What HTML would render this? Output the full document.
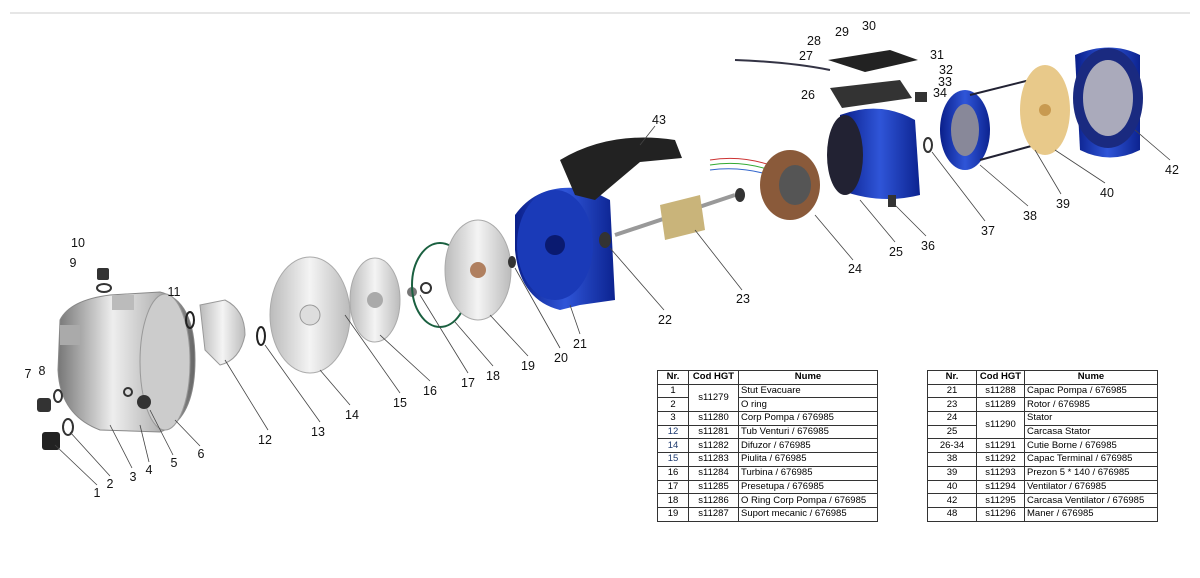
<!DOCTYPE html>
<html><head><style>
html,body{margin:0;padding:0;background:#fff;}
body{width:1200px;height:578px;position:relative;overflow:hidden;font-family:"Liberation Sans",sans-serif;}
svg{position:absolute;left:0;top:0;}
table{position:absolute;border-collapse:collapse;font-family:"Liberation Sans",sans-serif;font-size:9.5px;}
td,th{border:1px solid #333;height:12.7px;padding:0 2px;line-height:12px;}
th{font-weight:bold;text-align:center;}
td.c{text-align:center;}
.n{color:#1e3a6e;}
</style></head><body>
<svg width="1200" height="578" viewBox="0 0 1200 578">
<defs>
<linearGradient id="silver" x1="0" x2="1"><stop offset="0" stop-color="#777"/><stop offset=".4" stop-color="#eee"/><stop offset=".7" stop-color="#bbb"/><stop offset="1" stop-color="#666"/></linearGradient>
<linearGradient id="blue" x1="0" x2="1"><stop offset="0" stop-color="#0a1f8a"/><stop offset=".5" stop-color="#2f55d8"/><stop offset="1" stop-color="#0c2390"/></linearGradient>
<linearGradient id="lg" x1="0" x2="1"><stop offset="0" stop-color="#bbb"/><stop offset=".5" stop-color="#f4f4f4"/><stop offset="1" stop-color="#bbb"/></linearGradient>
</defs>
<line x1="10" y1="13" x2="1190" y2="13" stroke="#ccc"/>
<path d="M60 320 Q70 300 110 295 L160 292 Q195 300 195 360 Q195 420 160 432 L100 430 Q60 415 58 370 Z" fill="url(#silver)" stroke="#888"/>
<ellipse cx="165" cy="362" rx="25" ry="68" fill="#ccc" stroke="#999"/>
<rect x="112" y="295" width="22" height="15" fill="#bbb"/>
<rect x="60" y="325" width="20" height="20" fill="#aaa"/>
<circle cx="144" cy="402" r="7" fill="#333"/><circle cx="128" cy="392" r="4" fill="none" stroke="#333" stroke-width="2"/>
<rect x="37" y="398" width="14" height="14" rx="3" fill="#333"/>
<rect x="42" y="432" width="18" height="18" rx="3" fill="#222"/>
<ellipse cx="68" cy="427" rx="5" ry="8" fill="none" stroke="#333" stroke-width="2"/>
<ellipse cx="58" cy="396" rx="4" ry="6" fill="none" stroke="#333" stroke-width="2"/>
<rect x="97" y="268" width="12" height="12" rx="2" fill="#333"/>
<ellipse cx="104" cy="288" rx="7" ry="4" fill="none" stroke="#333" stroke-width="2"/>
<ellipse cx="190" cy="320" rx="4" ry="8" fill="none" stroke="#222" stroke-width="2"/>
<path d="M200 305 L225 300 Q245 310 245 335 Q240 360 220 365 L205 350 Z" fill="url(#lg)" stroke="#999"/>
<ellipse cx="261" cy="336" rx="4" ry="9" fill="none" stroke="#222" stroke-width="2"/>
<ellipse cx="310" cy="315" rx="40" ry="58" fill="url(#lg)" stroke="#aaa"/>
<circle cx="310" cy="315" r="10" fill="#ddd" stroke="#999"/>
<ellipse cx="375" cy="300" rx="25" ry="42" fill="url(#lg)" stroke="#aaa"/>
<circle cx="375" cy="300" r="8" fill="#aaa"/>
<circle cx="412" cy="292" r="5" fill="#777"/><circle cx="426" cy="288" r="5" fill="none" stroke="#333" stroke-width="2"/>
<ellipse cx="440" cy="285" rx="28" ry="42" fill="none" stroke="#1a6040" stroke-width="2"/>
<ellipse cx="478" cy="270" rx="33" ry="50" fill="url(#lg)" stroke="#aaa"/>
<circle cx="478" cy="270" r="8" fill="#b08060"/>
<ellipse cx="512" cy="262" rx="4" ry="6" fill="#333"/>
<path d="M515 215 Q540 180 590 190 L610 200 L615 300 L580 305 L560 310 Q520 300 515 250 Z" fill="url(#blue)"/>
<ellipse cx="555" cy="245" rx="38" ry="55" fill="#1a3ab8"/>
<circle cx="555" cy="245" r="10" fill="#0a1a70"/>
<path d="M560 160 Q610 130 675 140 L682 158 L640 162 L595 200 L575 195 Z" fill="#222"/>
<ellipse cx="605" cy="240" rx="6" ry="8" fill="#333"/>
<line x1="615" y1="235" x2="735" y2="195" stroke="#999" stroke-width="4"/>
<path d="M660 205 L700 195 L705 230 L665 240 Z" fill="#c9b47a"/>
<ellipse cx="740" cy="195" rx="5" ry="7" fill="#333"/>
<path d="M710 160 Q740 155 770 165" stroke="#c33" fill="none"/><path d="M710 165 Q740 160 770 170" stroke="#3a3" fill="none"/><path d="M710 170 Q740 166 770 175" stroke="#36c" fill="none"/>
<ellipse cx="790" cy="185" rx="30" ry="35" fill="#8a5a3a"/>
<ellipse cx="795" cy="185" rx="16" ry="20" fill="#555"/>
<path d="M840 115 Q880 100 915 120 L920 195 Q880 205 840 190 Z" fill="url(#blue)"/>
<ellipse cx="845" cy="155" rx="18" ry="40" fill="#223"/>
<rect x="888" y="195" width="8" height="12" fill="#333"/>
<ellipse cx="928" cy="145" rx="4" ry="7" fill="none" stroke="#333" stroke-width="2"/>
<path d="M828 60 L890 50 L918 60 L865 72 Z" fill="#222"/>
<path d="M830 88 L900 80 L912 98 L842 108 Z" fill="#333"/>
<path d="M735 60 Q790 62 830 70" stroke="#334" stroke-width="2" fill="none"/>
<rect x="915" y="92" width="12" height="10" fill="#333"/>
<ellipse cx="965" cy="130" rx="25" ry="40" fill="url(#blue)"/>
<ellipse cx="965" cy="130" rx="14" ry="26" fill="#889"/>
<line x1="970" y1="95" x2="1030" y2="80" stroke="#223" stroke-width="2"/><line x1="980" y1="160" x2="1035" y2="145" stroke="#223" stroke-width="2"/>
<ellipse cx="1045" cy="110" rx="25" ry="45" fill="#e8c98a"/>
<circle cx="1045" cy="110" r="6" fill="#c89a50"/>
<path d="M1075 55 Q1110 40 1140 55 L1140 150 Q1110 165 1080 150 Z" fill="url(#blue)"/>
<ellipse cx="1108" cy="98" rx="35" ry="50" fill="#1a2a80"/>
<ellipse cx="1108" cy="98" rx="25" ry="38" fill="#aab"/>
<g stroke="#444" stroke-width="0.8">
<line x1="97" y1="485" x2="55" y2="445"/><line x1="110" y1="476" x2="70" y2="432"/><line x1="132" y1="468" x2="110" y2="425"/>
<line x1="149" y1="462" x2="140" y2="425"/><line x1="173" y1="455" x2="150" y2="410"/><line x1="200" y1="446" x2="175" y2="420"/>
<line x1="268" y1="430" x2="225" y2="360"/><line x1="320" y1="422" x2="265" y2="345"/><line x1="350" y1="405" x2="320" y2="370"/>
<line x1="400" y1="393" x2="345" y2="315"/><line x1="430" y1="381" x2="380" y2="335"/><line x1="468" y1="373" x2="420" y2="295"/>
<line x1="493" y1="366" x2="455" y2="322"/><line x1="528" y1="356" x2="490" y2="315"/><line x1="560" y1="348" x2="515" y2="268"/>
<line x1="580" y1="334" x2="570" y2="305"/><line x1="664" y1="310" x2="610" y2="248"/><line x1="742" y1="290" x2="695" y2="230"/>
<line x1="853" y1="260" x2="815" y2="215"/><line x1="895" y1="242" x2="860" y2="200"/><line x1="926" y1="236" x2="895" y2="205"/>
<line x1="985" y1="221" x2="932" y2="152"/><line x1="1028" y1="206" x2="980" y2="165"/><line x1="1061" y1="194" x2="1035" y2="150"/>
<line x1="1105" y1="183" x2="1055" y2="150"/><line x1="1170" y1="160" x2="1135" y2="130"/><line x1="655" y1="126" x2="640" y2="145"/>
</g>
<g font-size="12.5" fill="#111" text-anchor="middle" font-family="Liberation Sans, sans-serif">
<text x="97" y="497">1</text><text x="110" y="488">2</text><text x="133" y="481">3</text><text x="149" y="474">4</text><text x="174" y="467">5</text><text x="201" y="458">6</text>
<text x="28" y="378">7</text><text x="42" y="375">8</text><text x="73" y="267">9</text><text x="78" y="247">10</text><text x="174" y="296">11</text>
<text x="265" y="444">12</text><text x="318" y="436">13</text><text x="352" y="419">14</text><text x="400" y="407">15</text><text x="430" y="395">16</text>
<text x="468" y="387">17</text><text x="493" y="380">18</text><text x="528" y="370">19</text><text x="561" y="362">20</text><text x="580" y="348">21</text>
<text x="665" y="324">22</text><text x="743" y="303">23</text><text x="855" y="273">24</text><text x="896" y="256">25</text>
<text x="808" y="99">26</text><text x="806" y="60">27</text><text x="814" y="45">28</text><text x="842" y="36">29</text><text x="869" y="30">30</text>
<text x="937" y="59">31</text><text x="946" y="74">32</text><text x="945" y="86">33</text><text x="940" y="97">34</text>
<text x="928" y="250">36</text><text x="988" y="235">37</text><text x="1030" y="220">38</text><text x="1063" y="208">39</text><text x="1107" y="197">40</text>
<text x="1172" y="174">42</text><text x="659" y="124">43</text>
</g>
</svg>
<table style="left:657px;top:370px;width:221px;">
<tr><th style="width:26px">Nr.</th><th style="width:45px">Cod HGT</th><th>Nume</th></tr>
<tr><td class="c">1</td><td class="c" rowspan="2">s11279</td><td>Stut Evacuare</td></tr>
<tr><td class="c">2</td><td>O ring</td></tr>
<tr><td class="c">3</td><td class="c">s11280</td><td>Corp Pompa / 676985</td></tr>
<tr><td class="c n">12</td><td class="c">s11281</td><td>Tub Venturi / 676985</td></tr>
<tr><td class="c n">14</td><td class="c">s11282</td><td>Difuzor / 676985</td></tr>
<tr><td class="c n">15</td><td class="c">s11283</td><td>Piulita / 676985</td></tr>
<tr><td class="c">16</td><td class="c">s11284</td><td>Turbina / 676985</td></tr>
<tr><td class="c">17</td><td class="c">s11285</td><td>Presetupa / 676985</td></tr>
<tr><td class="c">18</td><td class="c">s11286</td><td>O Ring Corp Pompa / 676985</td></tr>
<tr><td class="c">19</td><td class="c">s11287</td><td>Suport mecanic / 676985</td></tr>
</table>
<table style="left:927px;top:370px;width:231px;">
<tr><th style="width:44px">Nr.</th><th style="width:43px">Cod HGT</th><th>Nume</th></tr>
<tr><td class="c">21</td><td class="c">s11288</td><td>Capac Pompa / 676985</td></tr>
<tr><td class="c">23</td><td class="c">s11289</td><td>Rotor / 676985</td></tr>
<tr><td class="c">24</td><td class="c" rowspan="2">s11290</td><td>Stator</td></tr>
<tr><td class="c">25</td><td>Carcasa Stator</td></tr>
<tr><td class="c">26-34</td><td class="c">s11291</td><td>Cutie Borne / 676985</td></tr>
<tr><td class="c">38</td><td class="c">s11292</td><td>Capac Terminal / 676985</td></tr>
<tr><td class="c">39</td><td class="c">s11293</td><td>Prezon 5 * 140 / 676985</td></tr>
<tr><td class="c">40</td><td class="c">s11294</td><td>Ventilator / 676985</td></tr>
<tr><td class="c">42</td><td class="c">s11295</td><td>Carcasa Ventilator / 676985</td></tr>
<tr><td class="c">48</td><td class="c">s11296</td><td>Maner / 676985</td></tr>
</table>
</body></html>
